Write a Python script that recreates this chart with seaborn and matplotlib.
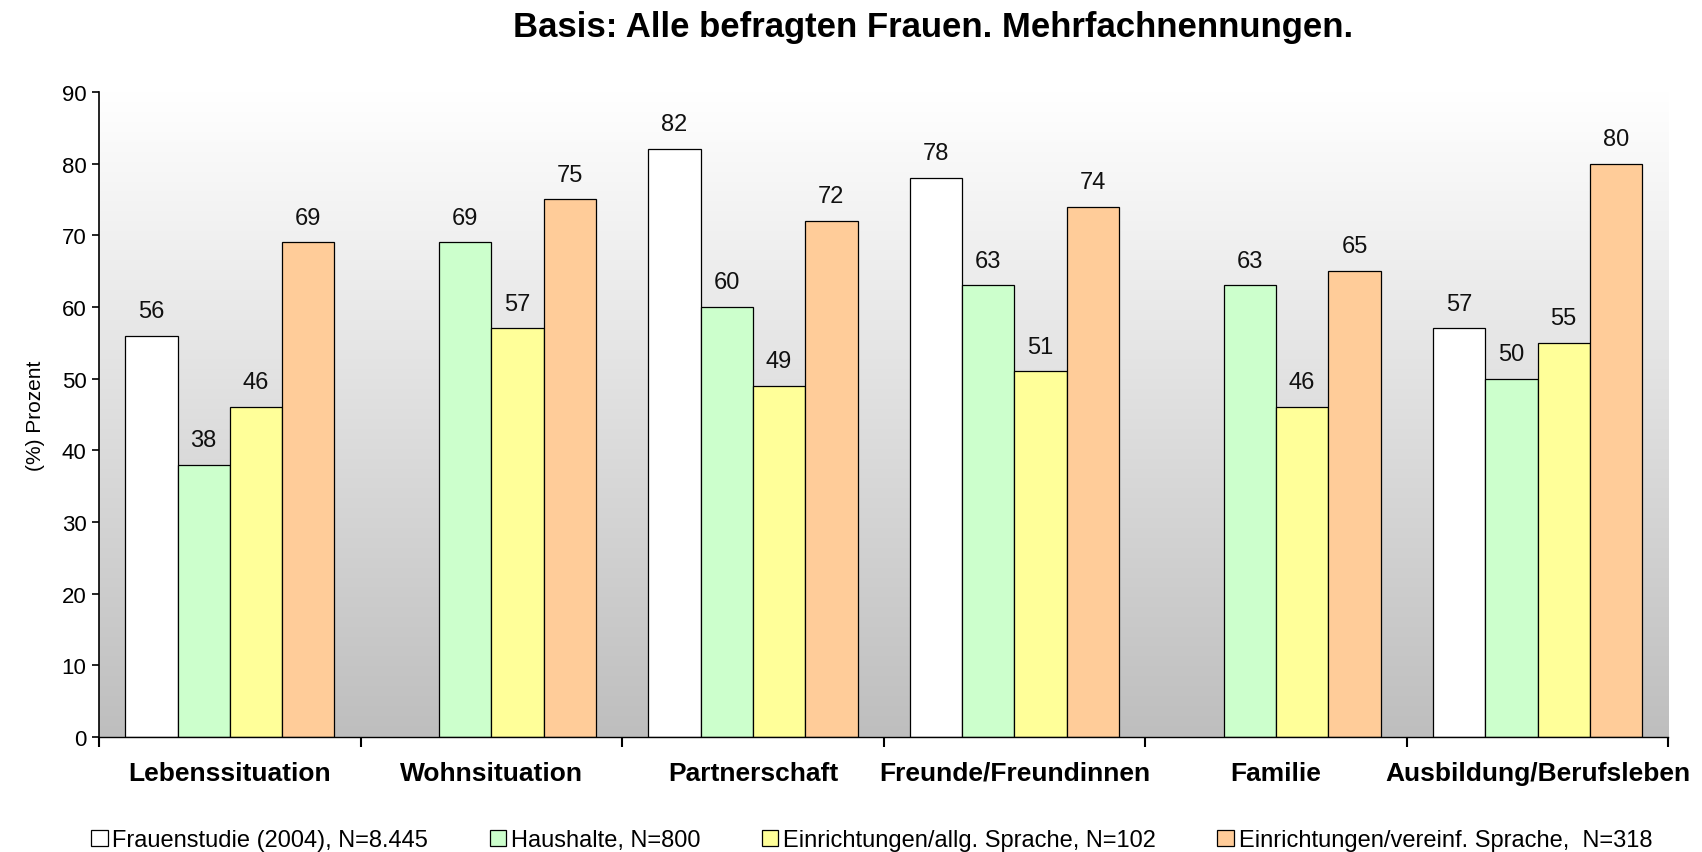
import numpy as np
import pandas as pd
import matplotlib.pyplot as plt
import seaborn as sns
from matplotlib.colors import LinearSegmentedColormap

# Data
categories = ["Lebenssituation", "Wohnsituation", "Partnerschaft",
              "Freunde/Freundinnen", "Familie", "Ausbildung/Berufsleben"]
series = ["Frauenstudie (2004), N=8.445",
          "Haushalte, N=800",
          "Einrichtungen/allg. Sprache, N=102",
          "Einrichtungen/vereinf. Sprache,  N=318"]
frauenstudie = [56, np.nan, 82, 78, np.nan, 57]
haushalte = [38, 69, 60, 63, 63, 50]
einr_allg = [46, 57, 49, 51, 46, 55]
einr_vereinf = [69, 75, 72, 74, 65, 80]
colors = ["#FFFFFF", "#CCFFCC", "#FFFF99", "#FFCC99"]

rows = []
for name, vals in zip(series, [frauenstudie, haushalte, einr_allg, einr_vereinf]):
    for cat, v in zip(categories, vals):
        rows.append({"Bereich": cat, "Gruppe": name, "Prozent": v})
data = pd.DataFrame(rows)

sns.set_style("white")
plt.rcParams["font.family"] = ["Liberation Sans", "DejaVu Sans"]
plt.rcParams["text.color"] = "black"
plt.rcParams["axes.labelcolor"] = "black"
plt.rcParams["xtick.color"] = "black"
plt.rcParams["ytick.color"] = "black"

fig = plt.figure(figsize=(17.02, 8.53), dpi=100)
ax = fig.add_axes([0.0582, 0.1348, 0.922, 0.7562])

# gradient background: white at top, gray at bottom
grad = np.linspace(1, 0, 256).reshape(-1, 1)
cmap = LinearSegmentedColormap.from_list("bg", ["#BEBEBE", "#FFFFFF"])
ax.imshow(grad, extent=(-0.5, 5.5, 0, 90), aspect="auto", cmap=cmap,
          origin="upper", zorder=0)

sns.barplot(data=data, x="Bereich", y="Prozent", hue="Gruppe",
            hue_order=series, order=categories,
            palette=dict(zip(series, colors)), saturation=1, errorbar=None,
            edgecolor="black", linewidth=0.9, width=0.8, ax=ax, zorder=2)

for cont in ax.containers:
    ax.bar_label(cont, fmt="%.0f", padding=10, fontsize=17, color="#111111")

ax.set_xlim(-0.5, 5.5)
ax.set_ylim(0, 90)
ax.set_yticks(range(0, 91, 10))
ax.tick_params(axis="y", labelsize=16, length=5, width=1.2, direction="out",
               left=True, pad=4)

# category boundaries as ticks, labels in the middle
ax.set_xticks(np.arange(-0.5, 6, 1))
ax.set_xticklabels([])
ax.set_xticks(range(len(categories)), minor=True)
ax.set_xticklabels(categories, minor=True, fontsize=19, fontweight="bold")
ax.tick_params(axis="x", which="major", length=7, width=1.5, direction="out",
               bottom=True)
ax.tick_params(axis="x", which="minor", length=0, pad=17)

ax.set_xlabel("")
ax.set_ylabel("(%) Prozent", fontsize=15, labelpad=12)

for s in ["top", "right"]:
    ax.spines[s].set_visible(False)
ax.spines["left"].set_color("black")
ax.spines["left"].set_linewidth(1.2)
ax.spines["bottom"].set_color("black")
ax.spines["bottom"].set_linewidth(1.0)

fig.text(0.548, 0.968, "Basis: Alle befragten Frauen. Mehrfachnennungen.",
         ha="center", va="center", fontsize=25, fontweight="bold")

sns.move_legend(ax, "center left", bbox_to_anchor=(-0.005, -0.16), ncol=4,
                frameon=False, title=None, fontsize=17, handlelength=0.7,
                handleheight=0.7, handletextpad=0.2, columnspacing=2.6,
                borderpad=0, borderaxespad=0)

plt.savefig("out.png", dpi=100)
